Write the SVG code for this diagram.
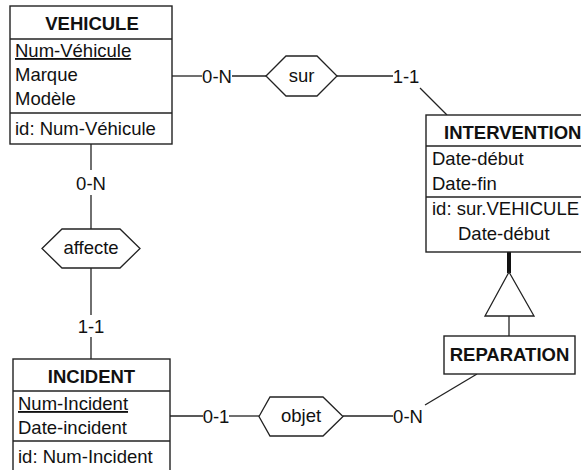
<svg xmlns="http://www.w3.org/2000/svg" width="581" height="470" viewBox="0 0 581 470">
  <style>
    .box { fill: #fff; stroke: #222; stroke-width: 1.4; }
    .sep { stroke: #222; stroke-width: 1.4; }
    .link { fill: none; stroke: #222; stroke-width: 1.3; }
    .rel { fill: #fff; stroke: #222; stroke-width: 1.3; }
    text { font-family: "Liberation Sans", Arial, sans-serif; font-size: 18.5px; fill: #111; }
    .title { font-weight: bold; text-anchor: middle; }
    .card { text-anchor: middle; dominant-baseline: central; }
  </style>
  <rect width="581" height="470" fill="#fff"/>

  <!-- connectors -->
  <g id="connectors">
    <!-- VEHICULE - sur - INTERVENTION -->
    <line class="link" x1="172" y1="76" x2="202" y2="76"/>
    <line class="link" x1="232" y1="76" x2="266" y2="76"/>
    <line class="link" x1="337" y1="76" x2="393" y2="76"/>
    <line class="link" x1="420" y1="88" x2="447" y2="115"/>
    <!-- VEHICULE - affecte - INCIDENT -->
    <line class="link" x1="91" y1="144" x2="91" y2="170"/>
    <line class="link" x1="91" y1="195" x2="91" y2="229"/>
    <line class="link" x1="91" y1="268" x2="91" y2="315"/>
    <line class="link" x1="91" y1="337" x2="91" y2="359"/>
    <!-- INCIDENT - objet - REPARATION -->
    <line class="link" x1="170" y1="416" x2="203" y2="416"/>
    <line class="link" x1="229" y1="416" x2="259" y2="416"/>
    <line class="link" x1="343" y1="416" x2="393" y2="416"/>
    <line class="link" x1="425" y1="405" x2="477" y2="374"/>
    <!-- ISA: INTERVENTION - REPARATION -->
    <line x1="509" y1="252" x2="509" y2="273" stroke="#111" stroke-width="4"/>
    <polygon class="rel" points="509,272 485,316 534,316"/>
    <line class="link" x1="509" y1="316" x2="509" y2="336"/>
    <!-- cardinalities -->
    <text class="card" x="217" y="76">0-N</text>
    <text class="card" x="406" y="76">1-1</text>
    <text class="card" x="91" y="183">0-N</text>
    <text class="card" x="91" y="326">1-1</text>
    <text class="card" x="216" y="416">0-1</text>
    <text class="card" x="408" y="416">0-N</text>
  </g>

  <!-- relationships -->
  <g id="sur">
    <polygon class="rel" points="266,76 286,56 317,56 337,76 317,96 286,96"/>
    <text class="card" x="301.5" y="75">sur</text>
  </g>
  <g id="affecte">
    <polygon class="rel" points="42,248.5 62,229 120,229 140,248.5 120,268 62,268"/>
    <text class="card" x="91" y="247">affecte</text>
  </g>
  <g id="objet">
    <polygon class="rel" points="259,416.5 270,397 323,397 343,416.5 323,436 270,436"/>
    <text class="card" x="301" y="415">objet</text>
  </g>

  <!-- entities -->
  <g id="VEHICULE">
    <rect class="box" x="10" y="6" width="162" height="138"/>
    <line class="sep" x1="10" y1="39" x2="172" y2="39"/>
    <line class="sep" x1="10" y1="113" x2="172" y2="113"/>
    <text class="title" x="92" y="30">VEHICULE</text>
    <text x="15" y="57" text-decoration="underline">Num-Véhicule</text>
    <text x="15" y="81">Marque</text>
    <text x="15" y="105">Modèle</text>
    <text x="15" y="135">id: Num-Véhicule</text>
  </g>

  <g id="INTERVENTION">
    <rect class="box" x="426" y="115" width="170" height="137"/>
    <line class="sep" x1="426" y1="146" x2="596" y2="146"/>
    <line class="sep" x1="426" y1="197" x2="596" y2="197"/>
    <text x="444" y="139" font-weight="bold">INTERVENTION</text>
    <text x="432" y="165">Date-début</text>
    <text x="432" y="190">Date-fin</text>
    <text x="432" y="215">id: sur.VEHICULE</text>
    <text x="458" y="240">Date-début</text>
  </g>

  <g id="REPARATION">
    <rect class="box" x="444" y="336" width="131" height="38"/>
    <text class="title" x="509.5" y="361">REPARATION</text>
  </g>

  <g id="INCIDENT">
    <rect class="box" x="13" y="359" width="157" height="120"/>
    <line class="sep" x1="13" y1="391" x2="170" y2="391"/>
    <line class="sep" x1="13" y1="441" x2="170" y2="441"/>
    <text class="title" x="91.5" y="383">INCIDENT</text>
    <text x="18" y="410" text-decoration="underline">Num-Incident</text>
    <text x="18" y="434">Date-incident</text>
    <text x="18" y="463">id: Num-Incident</text>
  </g>
</svg>
